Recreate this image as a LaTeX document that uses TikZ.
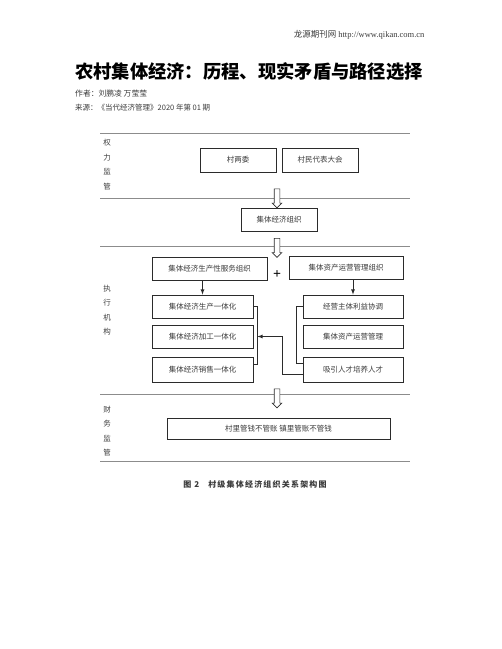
\documentclass[tikz,border=0pt]{standalone}
\usepackage{fontspec}
\setmainfont{Liberation Serif}
\newfontfamily\cjk{Noto Sans CJK SC}
\newfontfamily\cjkcap[LetterSpace=15]{Noto Sans CJK SC}
\usetikzlibrary{positioning, arrows.meta, calc, shapes.arrows}
\definecolor{lineGray}{HTML}{8C8C8C}
\definecolor{boxDark}{HTML}{2B2B2B}
\definecolor{textGray}{HTML}{3A3A3A}

\begin{document}
\begin{tikzpicture}[
        x=1pt, y=-1pt,
        box/.style={
          rectangle, draw=boxDark, line width=0.8pt,
          fill=white, align=center, inner sep=1pt,
          minimum height=23pt,
          font=\cjk\fontsize{7.5}{9}\selectfont, text=textGray
        },
        sideLabel/.style={
          align=center, text=textGray,
          font=\cjk\fontsize{7.5}{14.5}\selectfont
        },
        hollow/.style={
          single arrow, shape border rotate=270,
          draw=boxDark, fill=white, line width=0.6pt,
          minimum height=19pt, inner sep=2.5pt,
          single arrow head extend=2pt
        },
        divider/.style={draw=lineGray, line width=1pt},
        arr/.style={->, >=latex, line width=0.8pt, color=boxDark},
        brace/.style={line width=0.8pt, color=boxDark}
      ]
      \useasboundingbox (0,0) rectangle (502,649);

      % Cabecera
      \node[anchor=east, font=\fontsize{8.5}{10}\selectfont, text=textGray] (site) at (428,35)
        {{\cjk 龙源期刊网} http://www.qikan.com.cn};
      \node[anchor=west, inner sep=0pt, font=\cjk\bfseries\fontsize{18.3}{20}\selectfont] (title) at (75,72)
        {农村集体经济：历程、现实矛盾与路径选择};
      \node[anchor=west, inner sep=0pt, font=\cjk\fontsize{7.8}{9}\selectfont, text=textGray] (author) at (75,94)
        {作者：刘鹏凌 万莹莹};
      \node[anchor=west, inner sep=0pt, font=\cjk\fontsize{7.5}{9}\selectfont, text=textGray] (source) at (75,108)
        {来源：《当代经济管理》2020 年第 01 期};

      % Franjas
      \foreach \y in {133,198,246,394,461}
        \draw[divider] (100,\y) -- (410,\y);

      % Etiquetas laterales
      \node[sideLabel] (power) at (107,164.5) {权\\力\\监\\管};
      \node[sideLabel] (exec)  at (107,310)   {执\\行\\机\\构};
      \node[sideLabel] (fin)   at (107,431)   {财\\务\\监\\管};

      % Nivel 1: supervision
      \node[box, minimum width=76pt, minimum height=24pt] (cwh)  at (238,160) {村两委};
      \node[box, minimum width=76pt, minimum height=24pt] (cmdb) at (320,160) {村民代表大会};
      \node[hollow] (down1) at (277,197) {};
      \node[box, minimum width=76pt] (jtzz) at (279,219.5) {集体经济组织};
      \node[hollow] (down2) at (277,246.5) {};

      % Nivel 2: organizaciones
      \node[box, minimum width=115pt] (fwzz) at (209.5,268.5) {集体经济生产性服务组织};
      \node[box, minimum width=114pt] (zczz) at (346,268)     {集体资产运营管理组织};
      \node[font=\bfseries\fontsize{14}{14}\selectfont] (plus) at (277,275) {+};

      % Columna izquierda
      \node[box, minimum width=101pt] (scz) at (202.5,306.5) {集体经济生产一体化};
      \node[box, minimum width=101pt] (jgz) at (202.5,336.5) {集体经济加工一体化};
      \node[box, minimum width=101pt, minimum height=25pt] (xsh) at (202.5,369.5) {集体经济销售一体化};

      % Columna derecha
      \node[box, minimum width=100pt] (jyzt) at (353,306.5) {经营主体利益协调};
      \node[box, minimum width=100pt] (zcyy) at (353,336.5) {集体资产运营管理};
      \node[box, minimum width=100pt, minimum height=25pt] (xyrc) at (353,369.5) {吸引人才培养人才};

      % Nivel 3: finanzas
      \node[hollow] (down3) at (277,397) {};
      \node[box, minimum width=223pt, minimum height=21pt] (czjg) at (278.5,428.5) {村里管钱不管账\ 镇里管账不管钱};

      % Pie
      \node[font=\cjkcap\bfseries\fontsize{8}{9}\selectfont, text=textGray] (caption) at (255,484)
        {图 2\hspace{9pt}村级集体经济组织关系架构图};

      % Conexiones
      \draw[arr] (fwzz.south -| scz.north) -- (scz.north);
      \draw[arr] (zczz.south -| jyzt.north) -- (jyzt.north);
      \draw[brace] (scz.east) -- ++(4,0) coordinate (lb) |- ([yshift=5pt]xsh.east);
      \draw[brace] (jyzt.west) -- ++(-6,0) |- ([yshift=6pt]xyrc.west);
      \draw[arr] ([yshift=-5pt]xyrc.west) -- ++(-20,0) |- (lb |- jgz.east);

    \end{tikzpicture}
\end{document}
